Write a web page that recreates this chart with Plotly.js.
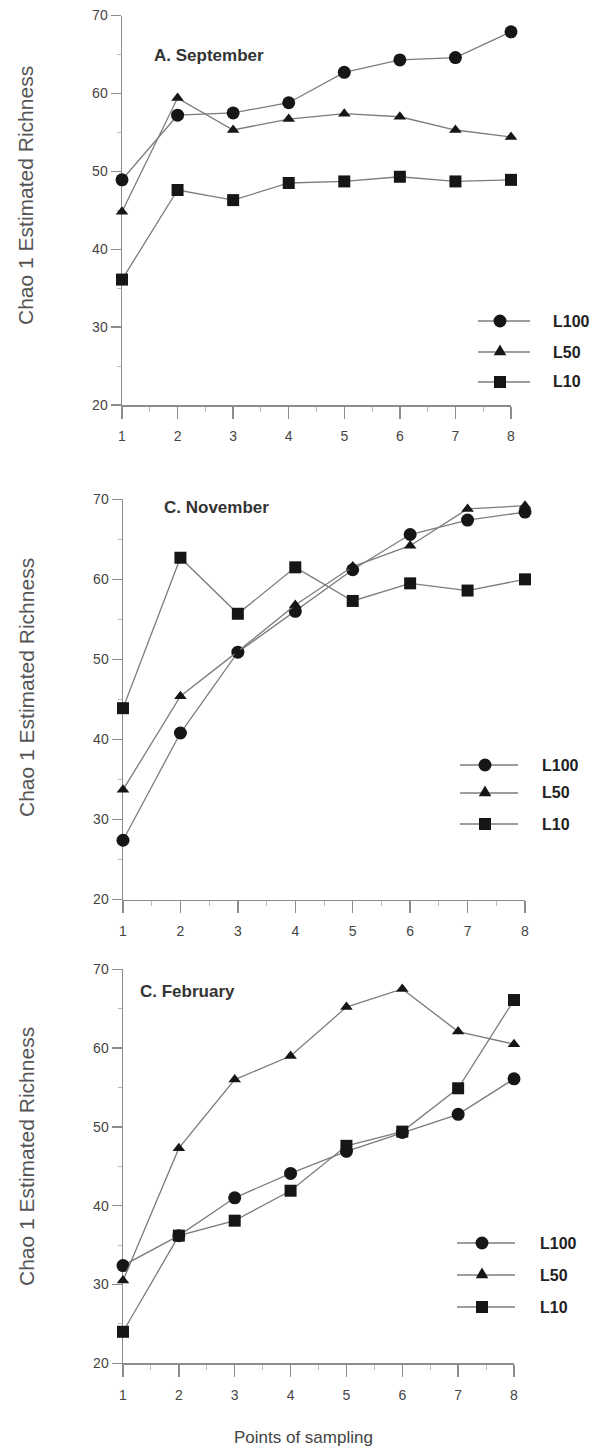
<!DOCTYPE html>
<html>
<head>
<meta charset="utf-8">
<script src="https://cdn.plot.ly/plotly-3.0.1.min.js"></script>
<style>html,body{margin:0;padding:0;background:#fff;}#chart{width:597px;height:1455px;}</style>
</head>
<body>
<div id="chart"></div>
<script>
// ---- data ----
var points = [1, 2, 3, 4, 5, 6, 7, 8];
var seriesNames = ["L100", "L50", "L10"];
var panelTitles = ["A. September", "C. November", "C. February"];
var yTitle = "Chao 1 Estimated Richness";
var xTitle = "Points of sampling";

var sepL100 = [48.9, 57.2, 57.5, 58.8, 62.7, 64.3, 64.6, 67.9];
var sepL50  = [44.8, 59.4, 55.3, 56.7, 57.4, 57.0, 55.3, 54.4];
var sepL10  = [36.1, 47.6, 46.3, 48.5, 48.7, 49.3, 48.7, 48.9];

var novL100 = [27.4, 40.8, 50.9, 56.0, 61.2, 65.6, 67.4, 68.4];
var novL50  = [33.7, 45.4, 51.0, 56.8, 61.6, 64.2, 68.8, 69.2];
var novL10  = [43.9, 62.7, 55.7, 61.5, 57.3, 59.5, 58.6, 60.0];

var febL100 = [32.4, 36.2, 41.0, 44.1, 46.9, 49.3, 51.6, 56.1];
var febL50  = [30.5, 47.3, 56.0, 59.0, 65.2, 67.5, 62.1, 60.5];
var febL10  = [24.0, 36.2, 38.1, 41.9, 47.6, 49.4, 54.9, 66.1];

var panelData = [
  [sepL100, sepL50, sepL10],
  [novL100, novL50, novL10],
  [febL100, febL50, febL10]
];

// ---- layout geometry (pixels) ----
var W = 597, H = 1455;
function px(x) { return x / W; }
function py(y) { return 1 - y / H; }

var panels = [
  {x0: 122, x1: 511, yTop: 15.5, yBot: 405, titleX: 152, titleY: 56, yTitleY: 196,
   leg: {l0: 478, l1: 530, m: 500, t: 551, rows: [321, 352, 382]}},
  {x0: 123, x1: 525, yTop: 499.3, yBot: 899.5, titleX: 162, titleY: 507, yTitleY: 688,
   leg: {l0: 460, l1: 518, m: 485, t: 540, rows: [765, 793, 824]}},
  {x0: 123, x1: 514, yTop: 969.3, yBot: 1363.3, titleX: 138, titleY: 991, yTitleY: 1157,
   leg: {l0: 457, l1: 515, m: 482, t: 538, rows: [1243, 1275, 1307]}}
];

var symbols = ["circle", "triangle-up", "square"];
var symSizes = [13, 11, 12];
var lineColor = "#7c7c7c";
var markColor = "#161616";
var axisColor = "#8c8c8c";
var font = "Liberation Sans, Arial, sans-serif";

var traces = [];
var layout = {
  width: W, height: H,
  margin: {l: 0, r: 0, t: 0, b: 0},
  paper_bgcolor: "#fff", plot_bgcolor: "rgba(0,0,0,0)",
  showlegend: false,
  font: {family: font, color: "#444"},
  annotations: [],
  shapes: []
};

panels.forEach(function (p, i) {
  var xa = i === 0 ? "x" : "x" + (i + 1);
  var ya = i === 0 ? "y" : "y" + (i + 1);
  var xk = i === 0 ? "xaxis" : "xaxis" + (i + 1);
  var yk = i === 0 ? "yaxis" : "yaxis" + (i + 1);

  seriesNames.forEach(function (name, s) {
    traces.push({
      type: "scatter", mode: "lines+markers",
      x: points, y: panelData[i][s], name: name,
      xaxis: xa, yaxis: ya, cliponaxis: false,
      line: {color: lineColor, width: 1.3},
      marker: {symbol: symbols[s], size: symSizes[s], color: markColor, line: {width: 0}}
    });
  });

  layout[xk] = {
    domain: [px(p.x0), px(p.x1)], anchor: ya, range: [1, 8],
    tick0: 1, dtick: 1, ticks: "outside", ticklen: 12, tickwidth: 1.3, tickcolor: axisColor,
    minor: {dtick: 0.5, tick0: 1, ticks: "outside", ticklen: 5, tickwidth: 1, tickcolor: "#bbb"},
    showline: true, linecolor: axisColor, linewidth: 1.5,
    showgrid: false, zeroline: false, layer: "below traces",
    tickfont: {size: 14, color: "#444", family: font}, ticklabelstandoff: 6
  };
  layout[yk] = {
    domain: [py(p.yBot), py(p.yTop)], anchor: xa, range: [20, 70],
    tick0: 20, dtick: 10, ticks: "outside", ticklen: 10, tickwidth: 1.3, tickcolor: axisColor,
    minor: {dtick: 5, tick0: 20, ticks: "outside", ticklen: 4, tickwidth: 1, tickcolor: "#bbb"},
    showline: true, linecolor: axisColor, linewidth: 1.5,
    showgrid: false, zeroline: false, layer: "below traces",
    tickfont: {size: 14, color: "#444", family: font}
  };

  // panel title
  layout.annotations.push({
    xref: "paper", yref: "paper", x: px(p.titleX), y: py(p.titleY),
    xanchor: "left", yanchor: "middle", showarrow: false,
    text: "<b>" + panelTitles[i] + "</b>",
    font: {size: 17, color: "#333", family: font}
  });
  // y axis title
  layout.annotations.push({
    xref: "paper", yref: "paper", x: px(26), y: py(p.yTitleY),
    xanchor: "center", yanchor: "middle", showarrow: false, textangle: -90,
    text: yTitle, font: {size: 21, color: "#555", family: font}
  });

  // custom legend
  var L = p.leg;
  seriesNames.forEach(function (name, s) {
    var ry = py(L.rows[s]);
    layout.shapes.push({
      type: "line", xref: "paper", yref: "paper",
      x0: px(L.l0), x1: px(L.l1), y0: ry, y1: ry,
      line: {color: lineColor, width: 1.3}
    });
    var base = {xref: "paper", yref: "paper", xsizemode: "pixel", ysizemode: "pixel",
                xanchor: px(L.m), yanchor: ry, fillcolor: markColor, line: {width: 0}};
    var shp;
    if (s === 0) {
      shp = Object.assign({type: "circle", x0: -6.5, x1: 6.5, y0: -6.5, y1: 6.5}, base);
    } else if (s === 1) {
      shp = Object.assign({type: "path", path: "M-6.3,-3.2 L6.3,-3.2 L0,7.6 Z"}, base);
    } else {
      shp = Object.assign({type: "rect", x0: -6, x1: 6, y0: -6, y1: 6}, base);
    }
    layout.shapes.push(shp);
    layout.annotations.push({
      xref: "paper", yref: "paper", x: px(L.t), y: ry,
      xanchor: "left", yanchor: "middle", showarrow: false,
      text: "<b>" + name + "</b>",
      font: {size: 16, color: "#222", family: font}
    });
  });
});

// common x title
layout.annotations.push({
  xref: "paper", yref: "paper", x: px(303), y: py(1437),
  xanchor: "center", yanchor: "middle", showarrow: false,
  text: xTitle, font: {size: 17, color: "#444", family: font}
});

Plotly.newPlot("chart", traces, layout, {staticPlot: true, displayModeBar: false});
</script>
</body>
</html>
